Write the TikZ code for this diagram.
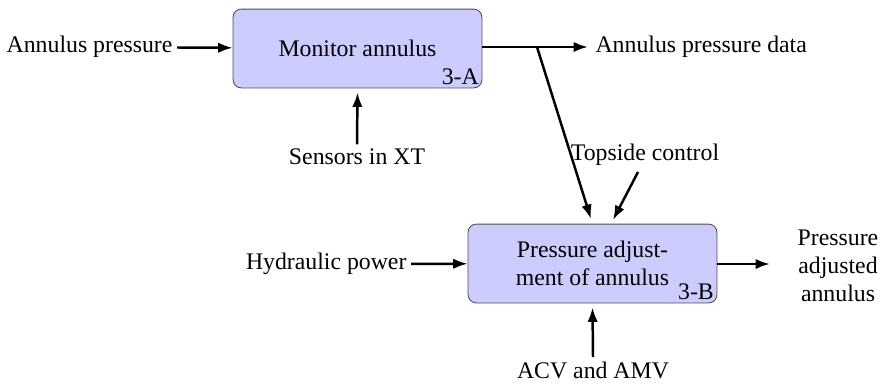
\documentclass[tikz,border=0pt]{standalone}
\usepackage{fontspec}
\setmainfont{Liberation Serif}
\usetikzlibrary{arrows.meta,positioning}
\definecolor{boxfill}{HTML}{CCCCFF}
\tikzset{funcbox/.style={draw=black!70,fill=boxfill,rounded corners=4pt,minimum width=4.23cm,minimum height=1.34cm,align=center,inner sep=2pt},
tagtext/.style={anchor=south east,inner sep=1.5pt},
flowlabel/.style={inner sep=2pt,align=center},
flowarrow/.style={line width=1.2pt,-{Latex[length=7pt,width=5pt]}}}
\begin{document}
\begin{tikzpicture}[x=0.017cm,y=-0.017cm,font=\fontsize{11.5}{13.5}\selectfont]
\useasboundingbox (0,0) rectangle (889,385);
% function blocks
\node[funcbox] (mon) at (357.5,48.5) {Monitor annulus};
\node[tagtext] (monid) at (mon.south east) {3-A};
\node[funcbox] (adj) at (592.5,263.5) {Pressure adjust-\\ment of annulus};
\node[tagtext] (adjid) at (adj.south east) {3-B};
% labels
\node[flowlabel,anchor=east] (annp) at (177,47) {Annulus pressure};
\node[flowlabel,anchor=west] (annd) at (591,47) {Annulus pressure data};
\node[flowlabel] (sens) at (357,157) {Sensors in XT};
\node[flowlabel] (tops) at (645,155) {Topside control};
\node[flowlabel,anchor=east] (hyd) at (411,264) {Hydraulic power};
\node[flowlabel] (padj) at (838,266) {Pressure\\adjusted\\annulus};
\node[flowlabel] (acv) at (593,370) {ACV and AMV};
\coordinate (br) at (537,47);
\coordinate (outA) at (588,47);
\coordinate (outB) at (770,264);
\coordinate (inA) at (591,219);
\coordinate (inB) at (613,220);
\coordinate (topsrc) at (638,172);
% connectors
\foreach \u/\v in {annp/mon,hyd/adj,br/inA,topsrc/inB}{\draw[flowarrow] (\u)--(\v);}
\draw[flowarrow] (mon.east|-outA)--(outA);
\draw[flowarrow] (adj.east|-outB)--(outB);
\draw[flowarrow] (sens.north)--([yshift=-2pt]mon.south);
\draw[flowarrow] (acv.north)--([yshift=-2pt]adj.south);
\end{tikzpicture}
\end{document}
